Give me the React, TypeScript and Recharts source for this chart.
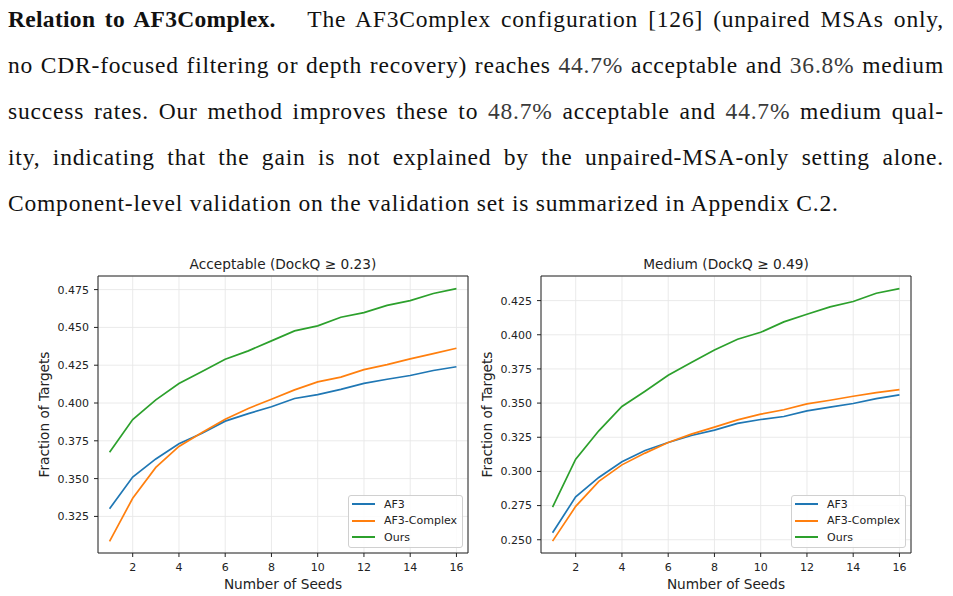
import { LineChart, Line, XAxis, YAxis, CartesianGrid, Legend, ReferenceArea, Label } from 'recharts'

const seeds = [1, 2, 3, 4, 5, 6, 7, 8, 9, 10, 11, 12, 13, 14, 15, 16]
const seedTicks = [2, 4, 6, 8, 10, 12, 14, 16]

const seriesNames = ['AF3', 'AF3-Complex', 'Ours']
const seriesKeys = ['af3', 'af3Complex', 'ours']
const seriesColors = ['#1f77b4', '#ff7f0e', '#2ca02c']

// Acceptable (DockQ >= 0.23)
const acceptableAf3 = [0.330, 0.351, 0.363, 0.373, 0.380, 0.388, 0.393, 0.3975, 0.403, 0.4056, 0.409, 0.413, 0.4157, 0.4182, 0.4215, 0.424]
const acceptableAf3Complex = [0.3085, 0.337, 0.3574, 0.3713, 0.3805, 0.3893, 0.3964, 0.4025, 0.4087, 0.414, 0.4171, 0.4221, 0.4254, 0.4292, 0.4327, 0.4362]
const acceptableOurs = [0.3675, 0.3891, 0.4021, 0.4129, 0.4208, 0.429, 0.4345, 0.4411, 0.4477, 0.451, 0.4567, 0.4598, 0.4646, 0.4677, 0.4724, 0.4757]
const acceptableTicks = [0.325, 0.35, 0.375, 0.4, 0.425, 0.45, 0.475]

// Medium (DockQ >= 0.49)
const mediumAf3 = [0.2551, 0.2814, 0.2956, 0.307, 0.3153, 0.3212, 0.3263, 0.3302, 0.3351, 0.338, 0.3402, 0.3443, 0.347, 0.3497, 0.3533, 0.356]
const mediumAf3Complex = [0.249, 0.2744, 0.2927, 0.3048, 0.3134, 0.3212, 0.3273, 0.3324, 0.3377, 0.3419, 0.3451, 0.3494, 0.3521, 0.355, 0.3577, 0.3599]
const mediumOurs = [0.2739, 0.309, 0.3297, 0.3475, 0.3587, 0.3704, 0.3797, 0.3889, 0.3967, 0.4018, 0.4094, 0.415, 0.4204, 0.4243, 0.4304, 0.4338]
const mediumTicks = [0.25, 0.275, 0.3, 0.325, 0.35, 0.375, 0.4, 0.425]

const acceptableData = seeds.map((seed, i) => ({
  seed,
  af3: acceptableAf3[i],
  af3Complex: acceptableAf3Complex[i],
  ours: acceptableOurs[i],
}))

const mediumData = seeds.map((seed, i) => ({
  seed,
  af3: mediumAf3[i],
  af3Complex: mediumAf3Complex[i],
  ours: mediumOurs[i],
}))

const plotFont = '"DejaVu Sans", sans-serif'
const xDomain: [number, number] = [0.5, 16.5]

function LegendBox({ payload }: any) {
  return (
    <div
      style={{
        border: '1px solid #d0d0d0',
        borderRadius: 3,
        background: 'rgba(255,255,255,0.85)',
        padding: '0px 5px 1px 3px',
        fontFamily: plotFont,
        fontSize: 11,
        color: '#222',
      }}
    >
      {(payload || []).map((p: any) => (
        <div key={p.value} style={{ display: 'flex', alignItems: 'center', height: 16.5 }}>
          <span style={{ display: 'inline-block', width: 23, height: 2, background: p.color, marginRight: 9 }} />
          {p.value}
        </div>
      ))}
    </div>
  )
}

interface SeedChartProps {
  title: string
  data: any[]
  domain: [number, number]
  ticks: number[]
  left: number
}

function SeedChart({ title, data, domain, ticks, left }: SeedChartProps) {
  return (
    <div style={{ position: 'absolute', left, top: 250, width: 476, height: 346 }}>
      <div
        style={{
          position: 'absolute',
          left: 98,
          width: 370,
          top: 6,
          height: 16,
          lineHeight: '16px',
          textAlign: 'center',
          fontFamily: plotFont,
          fontSize: 13.7,
          color: '#222',
        }}
      >
        {title}
      </div>
      <LineChart width={476} height={346} data={data} margin={{ top: 26, right: 8, bottom: 3, left: 0 }}>
        <CartesianGrid stroke="#e8e8e8" strokeWidth={0.9} />
        <XAxis
          type="number"
          dataKey="seed"
          domain={xDomain}
          ticks={seedTicks}
          allowDataOverflow
          height={40}
          axisLine={false}
          tickSize={4}
          tickMargin={6}
          tickLine={{ stroke: '#222' }}
          tick={{ fill: '#222', fontSize: 11, fontFamily: plotFont }}
        >
          <Label
            value="Number of Seeds"
            position="insideBottom"
            offset={4}
            style={{ fontFamily: plotFont, fontSize: 13.7, fill: '#222' }}
          />
        </XAxis>
        <YAxis
          type="number"
          domain={domain}
          ticks={ticks}
          allowDataOverflow
          width={98}
          axisLine={false}
          tickSize={4}
          tickMargin={5}
          tickLine={{ stroke: '#222' }}
          tick={{ fill: '#222', fontSize: 11, fontFamily: plotFont }}
          tickFormatter={(v: number) => v.toFixed(3)}
        >
          <Label
            value="Fraction of Targets"
            angle={-90}
            position="insideLeft"
            offset={44}
            style={{ fontFamily: plotFont, fontSize: 13.7, fill: '#222', textAnchor: 'middle' }}
          />
        </YAxis>
        {/* axes frame */}
        <ReferenceArea
          x1={xDomain[0]}
          x2={xDomain[1]}
          y1={domain[0]}
          y2={domain[1]}
          fill="none"
          stroke="#222"
          strokeWidth={1}
          ifOverflow="visible"
        />
        {seriesKeys.map((key, i) => (
          <Line
            key={key}
            type="linear"
            dataKey={key}
            name={seriesNames[i]}
            stroke={seriesColors[i]}
            strokeWidth={1.7}
            dot={false}
            activeDot={false}
            isAnimationActive={false}
          />
        ))}
        <Legend
          layout="vertical"
          align="center"
          verticalAlign="middle"
          content={<LegendBox />}
          wrapperStyle={{ position: 'absolute', left: 348, top: 245, width: 'auto' }}
        />
      </LineChart>
    </div>
  )
}

const proseLine = { textAlign: 'justify' as const, textAlignLast: 'justify' as const, height: 46, lineHeight: '46px', whiteSpace: 'nowrap' as const }
const mathNum = { color: '#3a3a3a' }

export default function App() {
  return (
    <div style={{ position: 'absolute', left: 0, top: 0, width: 953, height: 596, background: '#fff', overflow: 'hidden' }}>
      <div
        style={{
          position: 'absolute',
          left: 8,
          top: -4,
          width: 936,
          fontFamily: '"Liberation Serif", serif',
          fontSize: 23.5,
          letterSpacing: 0.8,
          color: '#111',
        }}
      >
        <div style={proseLine}>
          <b style={{ marginRight: 22, letterSpacing: 0.3 }}>Relation to AF3Complex.</b> The AF3Complex configuration [126] (unpaired MSAs only,
        </div>
        <div style={proseLine}>
          no CDR-focused filtering or depth recovery) reaches <span style={mathNum}>44.7%</span> acceptable and{' '}
          <span style={mathNum}>36.8%</span> medium
        </div>
        <div style={proseLine}>
          success rates. Our method improves these to <span style={mathNum}>48.7%</span> acceptable and{' '}
          <span style={mathNum}>44.7%</span> medium qual-
        </div>
        <div style={proseLine}>
          ity, indicating that the gain is not explained by the unpaired-MSA-only setting alone.
        </div>
        <div style={{ ...proseLine, textAlign: 'left', textAlignLast: 'left' }}>
          Component-level validation on the validation set is summarized in Appendix C.2.
        </div>
      </div>
      <SeedChart title="Acceptable (DockQ ≥ 0.23)" data={acceptableData} domain={[0.3008, 0.484]} ticks={acceptableTicks} left={0} />
      <SeedChart title="Medium (DockQ ≥ 0.49)" data={mediumData} domain={[0.2403, 0.443]} ticks={mediumTicks} left={443} />
    </div>
  )
}
